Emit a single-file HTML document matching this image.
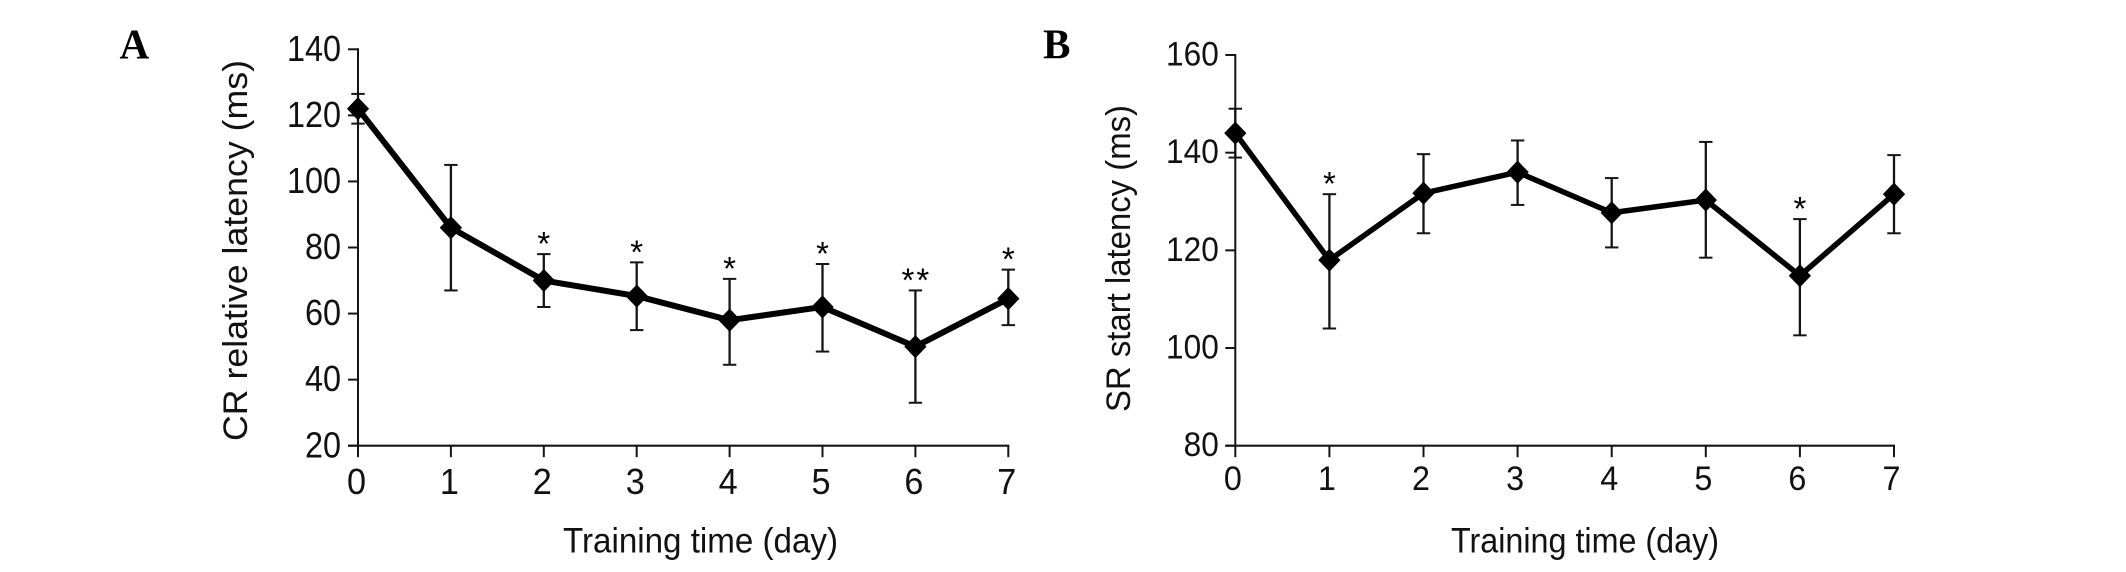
<!DOCTYPE html>
<html lang="en">
<head>
<meta charset="utf-8">
<title>CR and SR latency over training time</title>
<style>
html,body{margin:0;padding:0;background:#fff;width:2126px;height:572px;overflow:hidden}
svg{display:block}
text{font-family:"Liberation Sans",sans-serif;fill:#111}
.letter{font-family:"Liberation Serif",serif;font-weight:bold;font-size:42px;fill:#000}
</style>
</head>
<body>
<svg id="figure" xmlns="http://www.w3.org/2000/svg" width="2126" height="572" viewBox="0 0 2126 572">
<text class="letter" transform="translate(119.5,58.5) scale(0.98,1)">A</text>
<text class="letter" transform="translate(1043,58.5) scale(0.98,1)">B</text>
</svg>
<script>
const days = [0, 1, 2, 3, 4, 5, 6, 7];

const crTicks = [20, 40, 60, 80, 100, 120, 140];
const crMean = [122, 86, 70, 65.3, 58, 62, 50, 64.5];
const crUpper = [126.5, 105, 78, 75.5, 70.5, 75, 67, 73.3];
const crLower = [117.5, 67, 62, 55, 44.5, 48.5, 33, 56.5];
const crStars = ["", "", "*", "*", "*", "*", "**", "*"];

const srTicks = [80, 100, 120, 140, 160];
const srMean = [144, 118, 131.7, 136, 127.7, 130.3, 114.8, 131.5];
const srUpper = [149, 131.5, 139.7, 142.5, 134.8, 142.2, 126.4, 139.5];
const srLower = [139, 104, 123.5, 129.3, 120.6, 118.5, 102.6, 123.5];
const srStars = ["", "*", "", "", "", "", "*", ""];

const svg = document.getElementById('figure');
const NS = 'http://www.w3.org/2000/svg';

function make(tag, attrs, parent) {
  const el = document.createElementNS(NS, tag);
  for (const k in attrs) el.setAttribute(k, attrs[k]);
  parent.appendChild(el);
  return el;
}

function seg(parent, x1, y1, x2, y2, w) {
  return make('line', {x1: x1, y1: y1, x2: x2, y2: y2, stroke: '#151515', 'stroke-width': w}, parent);
}

function label(parent, str, x, y, size, sx, anchor) {
  const t = make('text', {
    transform: 'translate(' + x + ',' + y + ') scale(' + sx + ',1)',
    'font-size': size,
    'text-anchor': anchor
  }, parent);
  t.textContent = str;
  return t;
}

function drawPanel(p) {
  const g = make('g', {}, svg);
  
  

  const xMax = days[days.length - 1];
  const yMin = p.ticks[0];
  const yMax = p.ticks[p.ticks.length - 1];
  const xScale = d => p.left + (d / xMax) * (p.right - p.left);
  const yScale = v => p.bottom - ((v - yMin) / (yMax - yMin)) * (p.bottom - p.top);

  const yAxis = seg(g, p.left, p.top - 1, p.left, p.bottom, 2);
  
  

  const xAxis = seg(g, p.left - 10, p.bottom, p.right + 1, p.bottom, 2.2);
  
  

  p.ticks.forEach(v => {
    const y = yScale(v);
    const tick = seg(g, p.left - 10, y, p.left, y, 2);
    
    
    const text = label(g, String(v), p.left - p.yLabelGap, y + p.yLabelDy, p.tickFont, p.tickScale, 'end');
    
    
  });

  days.forEach(d => {
    const x = xScale(d);
    const tick = seg(g, x, p.bottom, x, p.bottom + 11.5, 2);
    
    
    const text = label(g, String(d), x + p.xLabelDx, p.bottom + p.xLabelDy, p.tickFont, 0.95, 'middle');
    
    
  });

  days.forEach((d, i) => {
    const x = xScale(d);
    const up = yScale(p.upper[i]);
    const lo = yScale(p.lower[i]);
    const bar = seg(g, x, up, x, lo, 2.3);
    
    
    const capTop = seg(g, x - 6.7, up, x + 6.7, up, 2);
    
    
    const capBottom = seg(g, x - 6.7, lo, x + 6.7, lo, 2);
    
    
  });

  const pts = days.map((d, i) => xScale(d) + ',' + yScale(p.mean[i])).join(' ');
  const line = make('polyline', {points: pts, fill: 'none', stroke: '#000', 'stroke-width': p.lineWidth, 'stroke-linejoin': 'round'}, g);
  
  

  days.forEach((d, i) => {
    const x = xScale(d);
    const y = yScale(p.mean[i]);
    const diamond = make('polygon', {
      points: (x - 10.6) + ',' + y + ' ' + x + ',' + (y - 11) + ' ' + (x + 10.6) + ',' + y + ' ' + x + ',' + (y + 11),
      fill: '#000', stroke: '#000', 'stroke-width': 0.8, 'stroke-linejoin': 'round'
    }, g);
    
    

    if (p.stars[i]) {
      const star = label(g, p.stars[i], x + 1, yScale(p.upper[i]) + 1, 33, 1, 'middle');
      star.setAttribute('letter-spacing', '2');
      star.setAttribute('style', 'fill:#000');
      
      
    }
  });

  const xt = make('text', {x: p.xTitleX, y: 552.5, 'font-size': 35, textLength: p.xTitleLen, lengthAdjust: 'spacingAndGlyphs'}, g);
  xt.textContent = 'Training time (day)';
  
  

  const yt = make('text', {
    transform: 'translate(' + p.yTitleX + ',' + p.yTitleY + ') rotate(-90)',
    x: 0, y: 0, 'font-size': 34, textLength: p.yTitleLen, lengthAdjust: 'spacingAndGlyphs'
  }, g);
  yt.textContent = p.yTitle;
  
  
}

drawPanel({
  name: 'panel-a-cr-latency-chart',
  left: 358, right: 1008.3, top: 49.3, bottom: 445.7,
  ticks: crTicks, mean: crMean, upper: crUpper, lower: crLower, stars: crStars,
  tickFont: 36, tickScale: 0.9, yLabelGap: 17, yLabelDy: 11.6, xLabelDx: -1.5, xLabelDy: 48.3, lineWidth: 6,
  yTitle: 'CR relative latency (ms)', yTitleX: 247, yTitleY: 441, yTitleLen: 381,
  xTitleX: 563, xTitleLen: 275
});

drawPanel({
  name: 'panel-b-sr-latency-chart',
  left: 1235.3, right: 1894, top: 55, bottom: 445.7,
  ticks: srTicks, mean: srMean, upper: srUpper, lower: srLower, stars: srStars,
  tickFont: 34, tickScale: 0.93, yLabelGap: 16.5, yLabelDy: 10.5, xLabelDx: -2.5, xLabelDy: 44.5, lineWidth: 5.5,
  yTitle: 'SR start latency (ms)', yTitleX: 1130, yTitleY: 412, yTitleLen: 307,
  xTitleX: 1451, xTitleLen: 268
});
</script>
</body>
</html>
